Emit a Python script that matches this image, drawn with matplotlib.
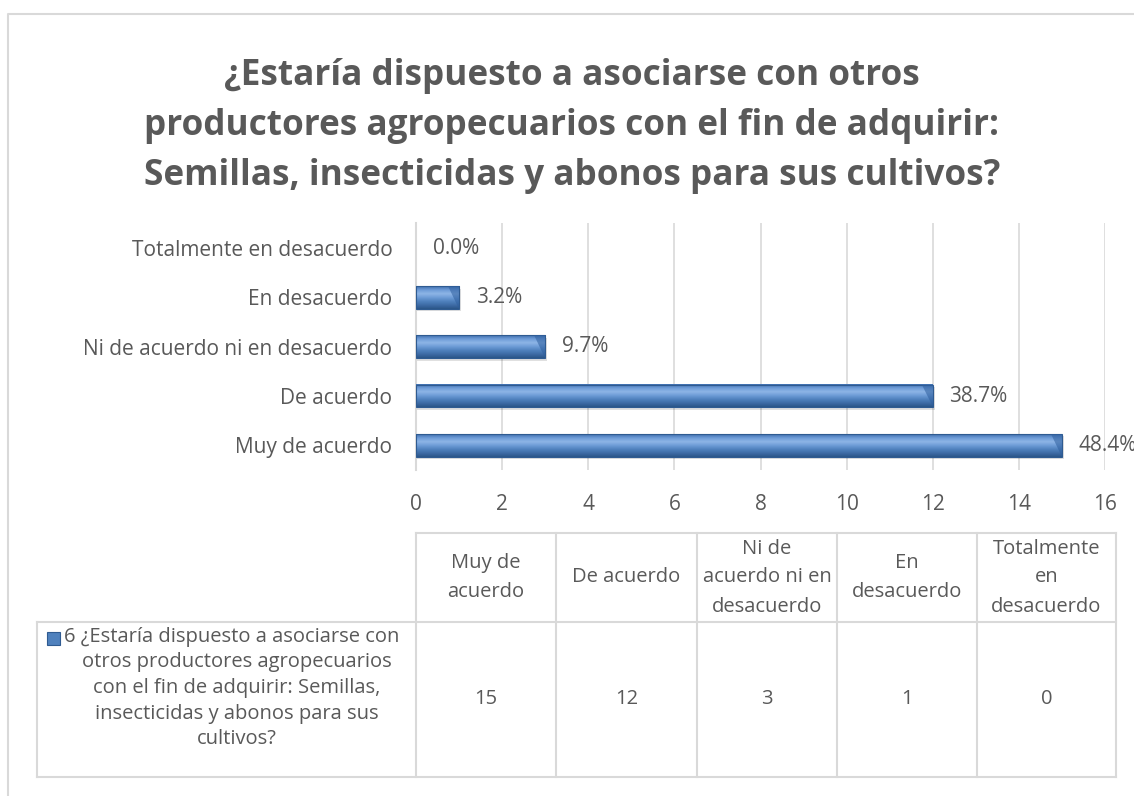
import matplotlib
matplotlib.use("Agg")
import matplotlib.pyplot as plt
import numpy as np
from matplotlib.colors import LinearSegmentedColormap
from matplotlib.patches import Rectangle
from matplotlib.lines import Line2D

# DATA --------------
categories = ["Muy de acuerdo", "De acuerdo", "Ni de acuerdo ni en desacuerdo",
              "En desacuerdo", "Totalmente en desacuerdo"]
header_labels = ["Muy de\nacuerdo", "De acuerdo", "Ni de\nacuerdo ni en\ndesacuerdo",
                 "En\ndesacuerdo", "Totalmente\nen\ndesacuerdo"]
counts = [15, 12, 3, 1, 0]
xticks = [0, 2, 4, 6, 8, 10, 12, 14, 16]
title_lines = ["¿Estaría dispuesto a asociarse con otros",
               "productores agropecuarios con el fin de adquirir:",
               "Semillas, insecticidas y abonos para sus cultivos?"]
series_lines = ["6 ¿Estaría dispuesto a asociarse con",
                "otros productores agropecuarios",
                "con el fin de adquirir: Semillas,",
                "insecticidas y abonos para sus",
                "cultivos?"]

# STYLE --------------
W, H = 1134, 796
TXT = "#595959"
GRID = "#D9D9D9"
FONT = "Open Sans"
FS = 15          # chart labels
FS_TAB = 14.5    # data table
plt.rcParams['font.family'] = [FONT, 'DejaVu Sans']

fig = plt.figure(figsize=(W / 100, H / 100), dpi=100)


def fx(x):
    return x / W


def fy(y):
    return 1 - y / H


# outer chart border (cropped on right/bottom)
fig.add_artist(Line2D([fx(8), fx(8), 1.0], [0.0, fy(14), fy(14)], color=GRID, lw=1.5))

for ln, yy in zip(title_lines, [76, 126, 176]):
    fig.text(fx(572), fy(yy), ln, ha="center", va="center", fontsize=25.3,
             fontweight="bold", color=TXT)

# bar axes
AX_L, AX_R, AX_T, AX_B = 416, 1105, 223.5, 470
ax = fig.add_axes([fx(AX_L), fy(AX_B), (AX_R - AX_L) / W, (AX_B - AX_T) / H])
ypos = np.arange(len(categories))
bar_h = 0.46
total = sum(counts)

grad = LinearSegmentedColormap.from_list(
    "bev", ["#2B5588", "#3E6CA6", "#4F81BD", "#6D9BD6", "#8DB5E6", "#6F9DD8", "#3F6FAE"])
gimg = np.linspace(0, 1, 64).reshape(-1, 1)

for y, v in zip(ypos, counts):
    if v > 0:
        # soft shadow
        ax.barh(y - 0.05, v + 0.05, height=bar_h, color="#000000", alpha=0.12, zorder=2)
        ax.imshow(gimg, cmap=grad, aspect="auto", interpolation="bilinear",
                  extent=(0, v, y - bar_h / 2, y + bar_h / 2), origin="lower", zorder=3)
        ax.barh(y, v, height=bar_h, facecolor="none", edgecolor="#2F5B91", lw=0.8, zorder=4)
        # bevel at bar end
        ax.fill([v - 0.25, v, v], [y + bar_h / 2, y + bar_h / 2, y - bar_h / 2],
                color="#2F5F9E", alpha=0.55, zorder=4, lw=0)
    pct = 100 * v / total
    ax.annotate(f"{pct:.1f}%", (v, y), xytext=(12, 0), textcoords="offset points",
                ha="left", va="center", fontsize=FS, color=TXT, annotation_clip=False)

ax.set_xlim(0, 16)
ax.set_ylim(-0.5, len(categories) - 0.5)
ax.set_xticks(xticks)
ax.set_yticks(ypos)
ax.set_yticklabels(categories)
ax.tick_params(length=0, labelsize=FS, labelcolor=TXT)
ax.tick_params(axis="x", pad=17)
ax.tick_params(axis="y", pad=17)
ax.grid(axis="x", color=GRID, lw=1.2, zorder=0)
ax.set_axisbelow(True)
for s in ["top", "right", "bottom"]:
    ax.spines[s].set_visible(False)
ax.spines["left"].set_color(GRID)
ax.spines["left"].set_linewidth(1.5)

# data table under the chart
col_x = [416, 556, 697, 837, 977, 1116]
top, mid, bot = 533, 622, 777
left = 37
tkw = dict(color="#D9D9D9", lw=1.5)
fig.add_artist(Line2D([fx(col_x[0]), fx(col_x[-1])], [fy(top), fy(top)], **tkw))
fig.add_artist(Line2D([fx(left), fx(col_x[-1])], [fy(mid), fy(mid)], **tkw))
fig.add_artist(Line2D([fx(left), fx(col_x[-1])], [fy(bot), fy(bot)], **tkw))
fig.add_artist(Line2D([fx(left), fx(left)], [fy(mid), fy(bot)], **tkw))
for cx in col_x:
    fig.add_artist(Line2D([fx(cx), fx(cx)], [fy(top), fy(bot)], **tkw))

hstep = 29
for i, (lab, v) in enumerate(zip(header_labels, counts)):
    cx = (col_x[i] + col_x[i + 1]) / 2
    parts = lab.split("\n")
    y0 = (top + mid) / 2 - hstep * (len(parts) - 1) / 2
    for k, p in enumerate(parts):
        fig.text(fx(cx), fy(y0 + k * hstep), p, ha="center", va="center",
                 fontsize=FS_TAB, color=TXT)
    fig.text(fx(cx), fy((mid + bot) / 2), str(v), ha="center", va="center",
             fontsize=FS_TAB, color=TXT)

# legend key + series name
fig.add_artist(Rectangle((fx(47), fy(645)), 13 / W, 13 / H, transform=fig.transFigure,
                         facecolor="#4F81BD", edgecolor="#2F5B91", lw=0.8))
line_y = [637, 662.5, 688, 713.5, 739]
fig.text(fx(64), fy(line_y[0]), series_lines[0], ha="left", va="center", fontsize=FS_TAB, color=TXT)
for ln, yy in zip(series_lines[1:], line_y[1:]):
    fig.text(fx(237), fy(yy), ln, ha="center", va="center", fontsize=FS_TAB, color=TXT)

fig.savefig("out.png", dpi=100)
